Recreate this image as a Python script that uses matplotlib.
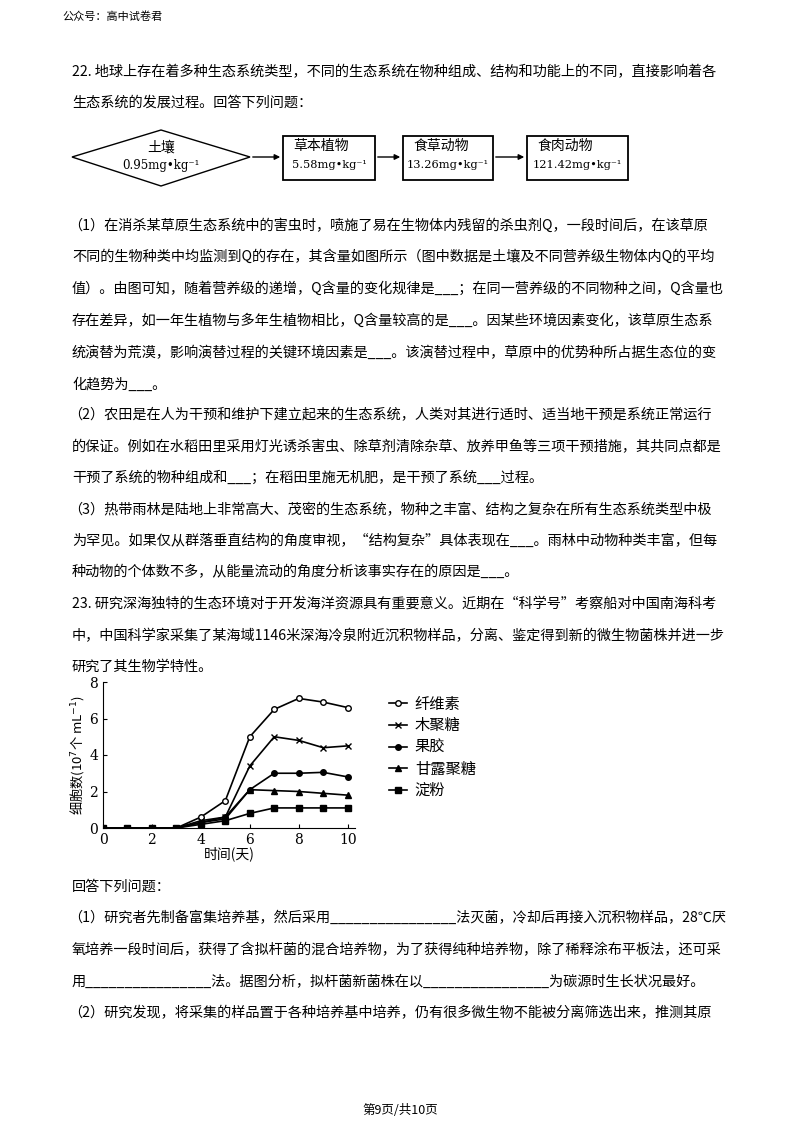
import matplotlib
matplotlib.use("Agg")
import matplotlib.pyplot as plt
from matplotlib.patches import Polygon, Rectangle

plt.rcParams['font.family'] = ['Noto Sans CJK SC', 'DejaVu Sans']

days = [0, 1, 2, 3, 4, 5, 6, 7, 8, 9, 10]
cellulose = [0, 0, 0, 0, 0.6, 1.5, 5.0, 6.5, 7.1, 6.9, 6.6]
xylan = [0, 0, 0, 0, 0.4, 0.6, 3.4, 5.0, 4.8, 4.4, 4.5]
pectin = [0, 0, 0, 0, 0.3, 0.6, 2.1, 3.0, 3.0, 3.05, 2.8]
mannan = [0, 0, 0, 0, 0.3, 0.5, 2.1, 2.05, 2.0, 1.9, 1.8]
starch = [0, 0, 0, 0, 0.2, 0.4, 0.8, 1.1, 1.1, 1.1, 1.1]
series_names = ['纤维素', '木聚糖', '果胶', '甘露聚糖', '淀粉']
x_ticks = [0, 2, 4, 6, 8, 10]
y_ticks = [0, 2, 4, 6, 8]

fig = plt.figure(figsize=(8, 11.32), dpi=100)
bg = fig.add_axes([0, 0, 1, 1])
bg.set_xlim(0, 800); bg.set_ylim(1132, 0); bg.axis('off')

def T(x, y, s, size=10, **kw):
    bg.text(x, y, s, fontsize=size, va='center', ha=kw.pop('ha', 'left'), **kw)

T(62, 17, '公众号：高中试卷君', 8)
lines = [
 (72, "22. 地球上存在着多种生态系统类型，不同的生态系统在物种组成、结构和功能上的不同，直接影响着各"),
 (103, "生态系统的发展过程。回答下列问题："),
 (226, "（1）在消杀某草原生态系统中的害虫时，喷施了易在生物体内残留的杀虫剂Q，一段时间后，在该草原"),
 (257, "不同的生物种类中均监测到Q的存在，其含量如图所示（图中数据是土壤及不同营养级生物体内Q的平均"),
 (289, "值）。由图可知，随着营养级的递增，Q含量的变化规律是___；在同一营养级的不同物种之间，Q含量也"),
 (321, "存在差异，如一年生植物与多年生植物相比，Q含量较高的是___。因某些环境因素变化，该草原生态系"),
 (353, "统演替为荒漠，影响演替过程的关键环境因素是___。该演替过程中，草原中的优势种所占据生态位的变"),
 (385, "化趋势为___。"),
 (415, "（2）农田是在人为干预和维护下建立起来的生态系统，人类对其进行适时、适当地干预是系统正常运行"),
 (447, "的保证。例如在水稻田里采用灯光诱杀害虫、除草剂清除杂草、放养甲鱼等三项干预措施，其共同点都是"),
 (478, "干预了系统的物种组成和___；在稻田里施无机肥，是干预了系统___过程。"),
 (510, "（3）热带雨林是陆地上非常高大、茂密的生态系统，物种之丰富、结构之复杂在所有生态系统类型中极"),
 (541, "为罕见。如果仅从群落垂直结构的角度审视，“结构复杂”具体表现在___。雨林中动物种类丰富，但每"),
 (572, "种动物的个体数不多，从能量流动的角度分析该事实存在的原因是___。"),
 (604, "23. 研究深海独特的生态环境对于开发海洋资源具有重要意义。近期在“科学号”考察船对中国南海科考"),
 (636, "中，中国科学家采集了某海域1146米深海冷泉附近沉积物样品，分离、鉴定得到新的微生物菌株并进一步"),
 (667, "研究了其生物学特性。"),
 (887, "回答下列问题："),
 (918, "（1）研究者先制备富集培养基，然后采用________________法灭菌，冷却后再接入沉积物样品，28℃厌"),
 (950, "氧培养一段时间后，获得了含拟杆菌的混合培养物，为了获得纯种培养物，除了稀释涂布平板法，还可采"),
 (982, "用________________法。据图分析，拟杆菌新菌株在以________________为碳源时生长状况最好。"),
 (1013, "（2）研究发现，将采集的样品置于各种培养基中培养，仍有很多微生物不能被分离筛选出来，推测其原"),
]
for y, s in lines:
    x = 72 if s[0] not in '（' else 68
    T(x, y, s, 10.2)
T(400, 1110, '第9页/共10页', 9, ha='center')

# flow diagram
bg.add_patch(Polygon([[72, 157], [161, 130], [250, 157], [161, 186]], closed=True, fill=False, lw=1))
T(161, 148, '土壤', 10, ha='center')
T(161, 166, '0.95mg•kg⁻¹', 8.5, ha='center', family=['DejaVu Serif'])
boxes = [(283, 375, '草本植物', '5.58mg•kg⁻¹'), (403, 493, '食草动物', '13.26mg•kg⁻¹'),
         (527, 628, '食肉动物', '121.42mg•kg⁻¹')]
for x0, x1, a, b in boxes:
    bg.add_patch(Rectangle((x0, 136), x1 - x0, 44, fill=False, lw=1.3))
    T(x0 + 10, 146, a, 10)
    T((x0 + x1) / 2, 165, b, 8.2, ha='center', family=['DejaVu Serif'])
for xs, xe in [(250, 283), (375, 403), (493, 527)]:
    bg.annotate('', xy=(xe, 157), xytext=(xs, 157),
                arrowprops=dict(arrowstyle='-|>', lw=1, color='black', mutation_scale=8))

# chart
ax = fig.add_axes([103/800, 1 - 828/1132, 252/800, 146/1132])
styles = [dict(marker='o', mfc='white'), dict(marker='x'), dict(marker='o', mfc='black'),
          dict(marker='^', mfc='black'), dict(marker='s', mfc='black')]
for vals, name, st in zip([cellulose, xylan, pectin, mannan, starch], series_names, styles):
    ax.plot(days, vals, color='black', lw=1.2, ms=4, mec='black', label=name, **st)
ax.set_xlim(0, 10.3); ax.set_ylim(0, 8)
ax.set_xticks(x_ticks); ax.set_yticks(y_ticks)
ax.spines['top'].set_visible(False); ax.spines['right'].set_visible(False)
ax.tick_params(labelsize=10, direction='in', length=3)
for lab in ax.get_xticklabels() + ax.get_yticklabels():
    lab.set_family(['DejaVu Serif'])
ax.set_xlabel('时间(天)', fontsize=10, labelpad=0)
ax.set_ylabel('细胞数(10$^7$个 mL$^{-1}$)', fontsize=9.5, labelpad=2)
ax.legend(loc='upper left', bbox_to_anchor=(1.08, 1.0), frameon=False, fontsize=11,
          handlelength=1.2, labelspacing=0.3, handletextpad=0.5)
ax.patch.set_alpha(0)

fig.savefig('out.png', dpi=100)
